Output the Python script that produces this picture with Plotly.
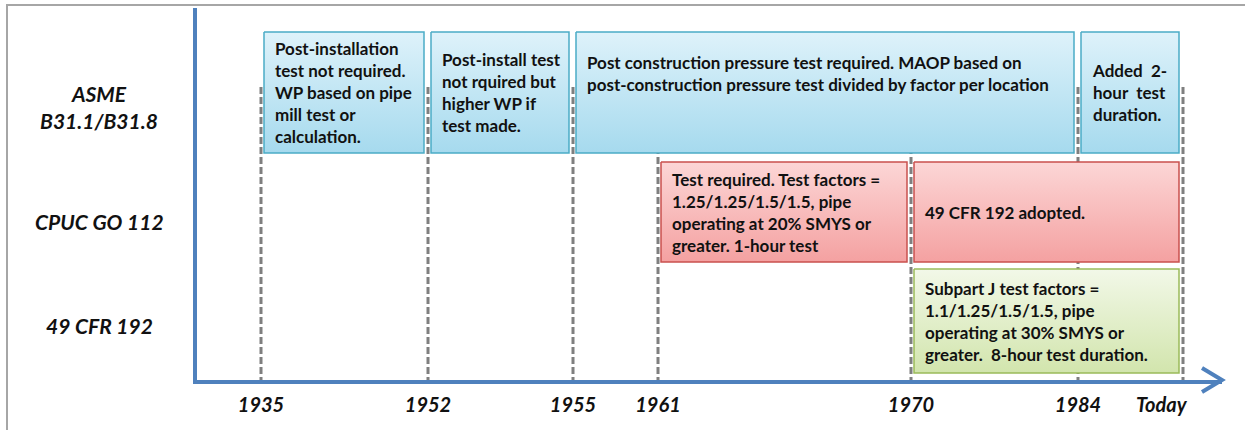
import plotly.graph_objects as go

# ---------------- data ----------------
milestones = ["1935", "1952", "1955", "1961", "1970", "1984", "Today"]
# layout position of each milestone along the timeline (schematic, not to scale)
milestone_pos = [64, 231, 376, 461, 714, 881, 986]

rows = ["ASME<br>B31.1/B31.8", "CPUC GO 112", "49 CFR 192"]

box_row = [0, 0, 0, 0, 1, 1, 2]
box_start = ["1935", "1952", "1955", "1984", "1961", "1970", "1970"]
box_end = ["1952", "1955", "1984", "Today", "1970", "Today", "Today"]
box_text = [
    "Post-installation<br>test not required.<br>WP based on pipe<br>mill test or<br>calculation.",
    "Post-install test<br>not rquired but<br>higher WP if<br>test made.",
    "Post construction pressure test required. MAOP based on<br>post-construction pressure test divided by factor per location",
    "Added  2-<br>hour  test<br>duration.",
    "Test required. Test factors =<br>1.25/1.25/1.5/1.5, pipe<br>operating at 20% SMYS or<br>greater. 1-hour test",
    "49 CFR 192 adopted.",
    "Subpart J test factors =<br>1.1/1.25/1.5/1.5, pipe<br>operating at 30% SMYS or<br>greater.  8-hour test duration.",
]

# ---------------- styles / layout ----------------
W, H = 1245, 430
ML, MR, MT, MB = 197, 23, 8, 50
PW, PH = W - ML - MR, H - MT - MB

row_band = [(24, 145), (154, 254), (261, 365)]   # vertical extent of each row's boxes
row_label_y = [99, 213, 317]
ROW_LABEL_PX = 99
box_valign = ["middle", "middle", "top", "middle", "middle", "middle", "middle"]
GAP_L, GAP_R, PAD = 3, 4, 9
DASH_TOP = 79

themes = {
    0: dict(top="#def2fa", bottom="#a6daee", line="#4bacc6"),
    1: dict(top="#fcd6d6", bottom="#f4a1a1", line="#c9504e"),
    2: dict(top="#f2f8e8", bottom="#d2e5ad", line="#9bbb59"),
}
AXIS_BLUE = "#4f81bd"
FONT = "Lato, 'Open Sans', sans-serif"
TXT = "#111111"

pos = dict(zip(milestones, milestone_pos))


def px(xp, yp):
    return (xp - ML) / PW, (H - MB - yp) / PH


fig = go.Figure()

# boxes
for i, txt in enumerate(box_text):
    r = box_row[i]
    th = themes[r]
    x0 = pos[box_start[i]] + GAP_L
    x1 = pos[box_end[i]] - GAP_R
    y0, y1 = row_band[r]
    fig.add_trace(go.Scatter(
        x=[x0, x1, x1, x0, x0], y=[y0, y0, y1, y1, y0],
        mode="lines", fill="toself",
        fillgradient=dict(type="vertical", start=y0, stop=y1,
                          colorscale=[[0, th["top"]], [1, th["bottom"]]]),
        line=dict(color=th["line"], width=1.5),
        hoverinfo="skip", showlegend=False,
    ))
    if box_valign[i] == "top":
        ty, ya = y0 + 18, "top"
    else:
        ty, ya = (y0 + y1) / 2, "middle"
    fig.add_annotation(
        x=x0 + PAD, y=ty, xref="x", yref="y", text=txt, showarrow=False,
        xanchor="left", yanchor=ya, align="left",
        font=dict(family=FONT, size=17, color=TXT, weight="bold"),
    )

# dashed milestone lines
for m in milestones:
    fig.add_shape(type="line", xref="x", yref="y", x0=pos[m], x1=pos[m],
                  y0=DASH_TOP, y1=PH, layer="below",
                  line=dict(color="#7f7f7f", width=3, dash="7px,3px"))

# row labels
for lbl, ly in zip(rows, row_label_y):
    fig.add_annotation(
        x=px(ROW_LABEL_PX, 0)[0], y=ly, xref="paper", yref="y", text=lbl,
        showarrow=False, xanchor="center", yanchor="middle", align="center",
        font=dict(family=FONT, size=21, color=TXT, weight="bold", style="italic"),
    )

# outer frame (top and left edges)
fx0, fy0 = px(7, 5)
fx1, fy1 = px(W + 5, H + 5)
fig.add_shape(type="path", xref="paper", yref="paper",
              path=f"M {fx0} {fy1} L {fx0} {fy0} L {fx1} {fy0}",
              line=dict(color="#a6a6a6", width=2))

# arrow head at the end of the time axis
ax0, ay0 = px(1202, 368)
ax1, ay1 = px(1222, 380)
ax2, ay2 = px(1202, 392)
fig.add_shape(type="path", xref="paper", yref="paper",
              path=f"M {ax0} {ay0} L {ax1} {ay1} L {ax2} {ay2}",
              line=dict(color=AXIS_BLUE, width=4))

tick_text = [m if m != "Today" else m + "&nbsp;" * 10 for m in milestones]

fig.update_layout(
    width=W, height=H,
    margin=dict(l=ML, r=MR, t=MT, b=MB),
    paper_bgcolor="white", plot_bgcolor="white",
    showlegend=False,
    xaxis=dict(range=[0, PW], showgrid=False, zeroline=False,
               showline=True, linecolor=AXIS_BLUE, linewidth=4,
               tickmode="array", tickvals=milestone_pos, ticktext=tick_text,
               ticks="outside", ticklen=4, tickcolor="rgba(0,0,0,0)",
               tickfont=dict(family=FONT, size=20, color=TXT, weight="bold", style="italic"),
               automargin=False, fixedrange=True),
    yaxis=dict(range=[PH, 0], showgrid=False, zeroline=False,
               showline=True, linecolor=AXIS_BLUE, linewidth=4,
               showticklabels=False, ticks="", automargin=False, fixedrange=True),
)

fig.write_html("out.html", config={"displayModeBar": False},
               post_script="document.body.style.margin='0px';")
